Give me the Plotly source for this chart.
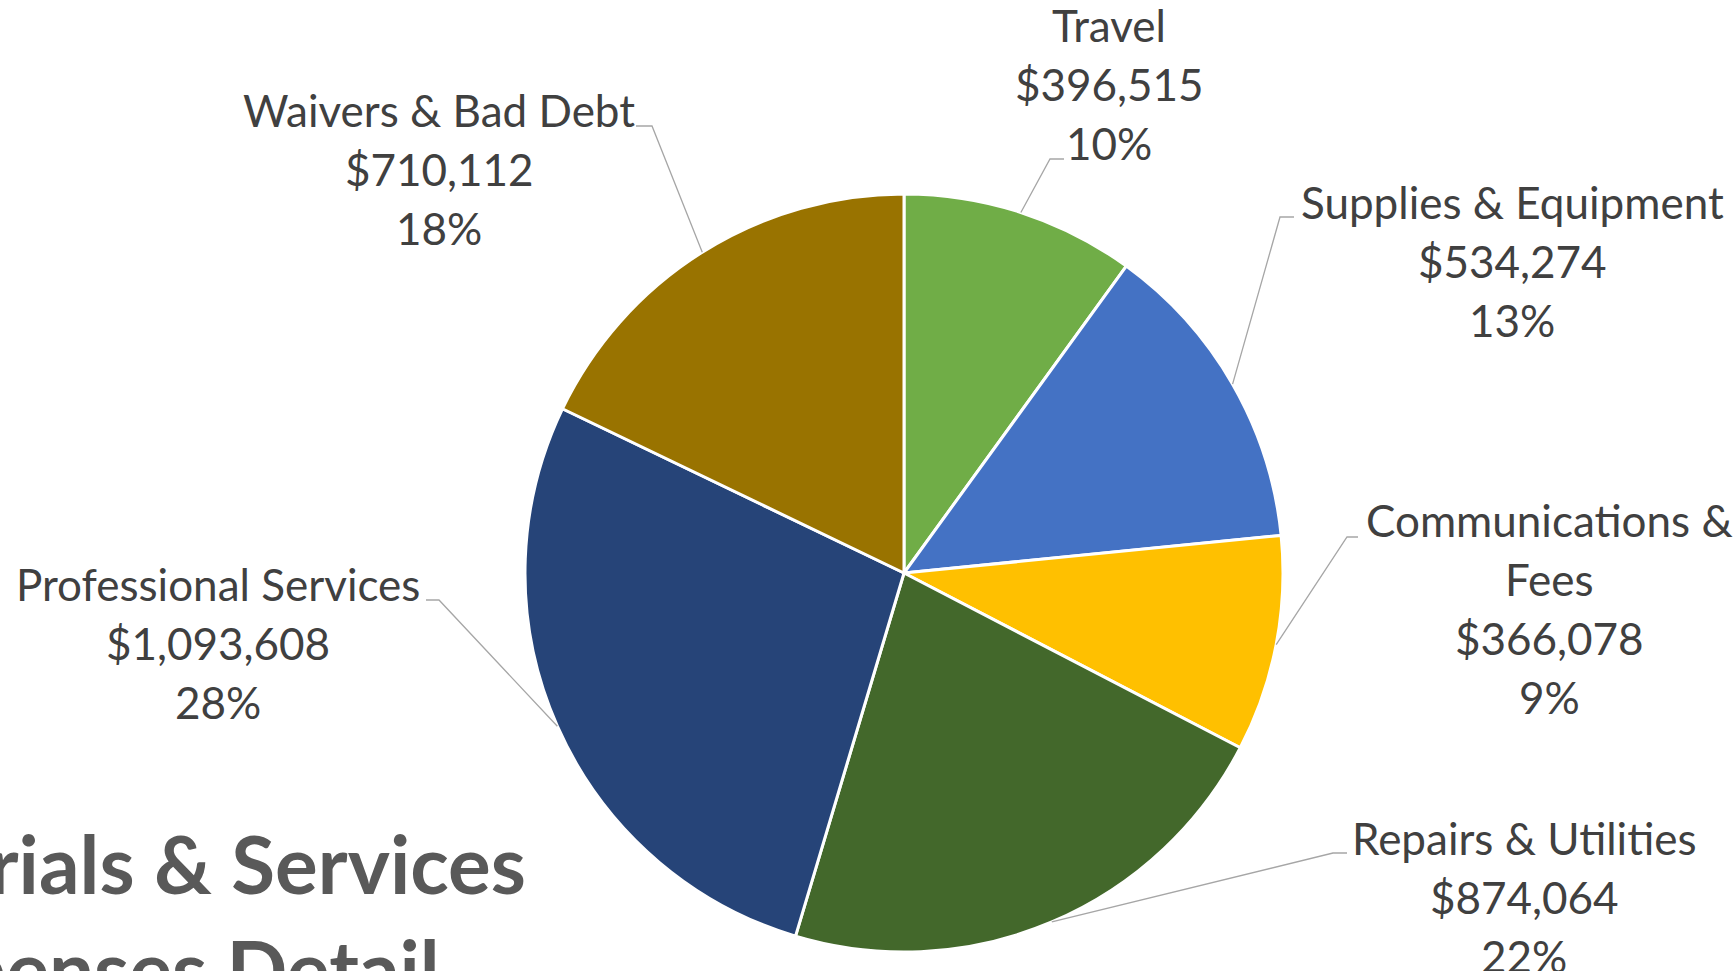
import math
import plotly.graph_objects as go

# ---- data ----
categories = ["Travel", "Supplies & Equipment", "Communications & Fees",
              "Repairs & Utilities", "Professional Services", "Waivers & Bad Debt"]
values = [396515, 534274, 366078, 874064, 1093608, 710112]
colors = ["#70AD47", "#4472C4", "#FFC000", "#43682B", "#264478", "#997300"]
label_lines = [
    ["Travel"],
    ["Supplies & Equipment"],
    ["Communications &", "Fees"],
    ["Repairs & Utilities"],
    ["Professional Services"],
    ["Waivers & Bad Debt"],
]
title_lines = ["Materials & Services", "Expenses Detail"]

# ---- layout / styling ----
W, H = 1734, 971
CX, CY, R = 904, 573, 379  # pie centre / radius in px
dom_x = [(CX - R) / W, (CX + R) / W]
dom_y = [1 - (CY + R) / H, 1 - (CY - R) / H]

LABEL_FONT = dict(family="Lato", size=44, color="#404040")
LINE_H = 59
# label block: (centre x px, first line centre y px)
label_pos = [(1109, 25), (1512, 202), (1549, 520), (1524, 838), (218, 584), (439, 110)]
# leader: elbow px, end px
leaders = [((1050, 159), (1064, 159)),
           ((1280, 217), (1294, 217)),
           ((1347, 537), (1358, 537)),
           ((1333, 853), (1347, 853)),
           ((439, 600), (426, 600)),
           ((652, 126), (636, 126))]

def px2paper(x, y):
    return x / W, 1 - y / H

fig = go.Figure(go.Pie(
    labels=categories, values=values, sort=False, direction="clockwise",
    rotation=0, textinfo="none", showlegend=False,
    marker=dict(colors=colors, line=dict(color="white", width=3)),
    domain=dict(x=dom_x, y=dom_y),
))

total = sum(values)
annotations = []
shapes = []
cum = 0.0
for i, v in enumerate(values):
    frac = v / total
    mid = (cum + frac / 2) * 2 * math.pi
    cum += frac
    ex = CX + R * math.sin(mid)
    ey = CY - R * math.cos(mid)
    (bx, by), (tx, ty) = leaders[i]
    p0 = px2paper(ex, ey); p1 = px2paper(bx, by); p2 = px2paper(tx, ty)
    shapes.append(dict(type="path", xref="paper", yref="paper",
                       path=f"M {p0[0]},{p0[1]} L {p1[0]},{p1[1]} L {p2[0]},{p2[1]}",
                       line=dict(color="#A6A6A6", width=1.3)))
    lines = label_lines[i] + [f"${v:,.0f}", f"{round(frac * 100):.0f}%"]
    lx, ly = label_pos[i]
    for k, t in enumerate(lines):
        ax, ay = px2paper(lx, ly + k * LINE_H)
        annotations.append(dict(text=t, x=ax, y=ay, xref="paper", yref="paper",
                                xanchor="center", yanchor="middle", showarrow=False,
                                font=LABEL_FONT))

# title (clipped at left edge as in reference)
title_font = dict(family="Lato", size=80, color="#595959", weight="bold")
for t, (rx, cy) in zip(title_lines, [(528, 863), (442, 968)]):
    ax, ay = px2paper(rx, cy)
    annotations.append(dict(text=f"<b>{t}</b>", x=ax, y=ay, xref="paper", yref="paper",
                            xanchor="right", yanchor="middle", showarrow=False,
                            font=title_font))

fig.update_layout(width=W, height=H, margin=dict(l=0, r=0, t=0, b=0),
                  paper_bgcolor="white", plot_bgcolor="white",
                  annotations=annotations, shapes=shapes)
fig.write_html("out.html", config={"displayModeBar": False},
               post_script="document.body.style.margin='0';document.body.style.overflow='hidden';")
